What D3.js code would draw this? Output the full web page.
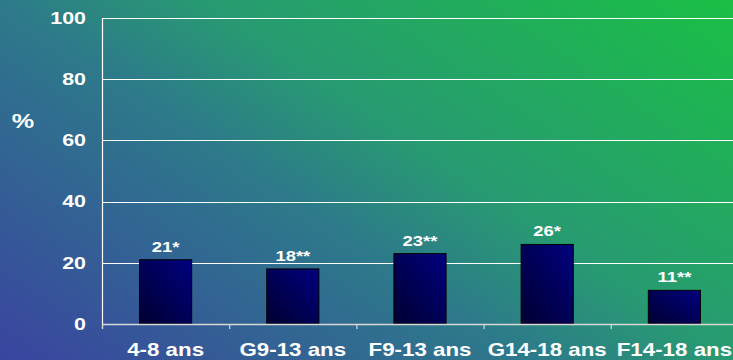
<!DOCTYPE html>
<html>
<head>
<meta charset="utf-8">
<script src="https://cdn.jsdelivr.net/npm/d3@7"></script>
<style>
  html, body { margin: 0; padding: 0; background: #2c7a80; }
  svg { display: block; }
  text { font-family: "Liberation Sans", Arial, sans-serif; font-weight: bold; fill: #ffffff; }
</style>
</head>
<body>
<svg id="chart" width="733" height="360"></svg>
<script>
// Data
const categories = ["4-8 ans", "G9-13 ans", "F9-13 ans", "G14-18 ans", "F14-18 ans"];
const values = [21, 18, 23, 26, 11];
const valueLabels = ["21*", "18**", "23**", "26*", "11**"];
const yTicks = [0, 20, 40, 60, 80, 100];

const W = 733, H = 360;
const margin = { left: 102, top: 18, bottom: 36 };
const plotRight = 738;

const svg = d3.select("#chart");
const defs = svg.append("defs");

// Background diagonal gradient: blue at bottom-left, teal through the middle, green at top-right
const bg = defs.append("linearGradient").attr("id", "bg")
  .attr("gradientUnits", "userSpaceOnUse")
  .attr("x1", 0).attr("y1", H).attr("x2", 398).attr("y2", -227);
bg.append("stop").attr("offset", 0).attr("stop-color", "#3a44a0");
bg.append("stop").attr("offset", 0.42).attr("stop-color", "#2d7a8a");
bg.append("stop").attr("offset", 0.58).attr("stop-color", "#289a72");
bg.append("stop").attr("offset", 1).attr("stop-color", "#1abf45");

// Bar fill: dark at bottom-left, navy at top-right
const barGrad = defs.append("linearGradient").attr("id", "barGrad")
  .attr("x1", 0).attr("y1", 1).attr("x2", 1).attr("y2", 0);
barGrad.append("stop").attr("offset", 0).attr("stop-color", "#000030");
barGrad.append("stop").attr("offset", 1).attr("stop-color", "#00007f");

svg.append("rect").attr("width", W).attr("height", H).attr("fill", "url(#bg)");

const x = d3.scaleBand().domain(categories).range([margin.left, plotRight]).paddingInner(0.59).paddingOuter(0.295);
const y = d3.scaleLinear().domain([0, 100]).range([H - margin.bottom, margin.top]);

// Text helper: wide bold lettering, stretched horizontally about its anchor
function wideText(g, tx, ty, sx, size, anchor, str) {
  g.append("text")
    .attr("transform", `translate(${tx},${ty}) scale(${sx},1)`)
    .attr("text-anchor", anchor).attr("font-size", size)
    .text(str);
}

// Gridlines
svg.append("g").selectAll("line").data(yTicks.filter(d => d > 0)).join("line")
  .attr("x1", margin.left).attr("x2", plotRight)
  .attr("y1", d => Math.round(y(d)) + 0.5).attr("y2", d => Math.round(y(d)) + 0.5)
  .attr("stroke", "#ffffff").attr("stroke-width", 1.2);

// Y axis line
svg.append("line")
  .attr("x1", margin.left + 0.5).attr("x2", margin.left + 0.5)
  .attr("y1", y(100)).attr("y2", y(0) + 5)
  .attr("stroke", "#ffffff").attr("stroke-width", 1.2);

// Y tick labels
const yLab = svg.append("g");
yTicks.forEach(d => wideText(yLab, 86, y(d) + 5.8, 1.3, 16.5, "end", d));

// Axis title
wideText(svg, 23, 128, 1.2, 21, "middle", "%");

// Bars
svg.append("g").selectAll("rect").data(values).join("rect")
  .attr("x", (d, i) => x(categories[i]))
  .attr("y", d => y(d))
  .attr("width", x.bandwidth())
  .attr("height", d => y(0) - y(d))
  .attr("fill", "url(#barGrad)")
  .attr("stroke", "#000000").attr("stroke-width", 1);

// X axis baseline and category separators
svg.append("line")
  .attr("x1", margin.left).attr("x2", plotRight)
  .attr("y1", y(0) + 0.5).attr("y2", y(0) + 0.5)
  .attr("stroke", "#d8d8d8").attr("stroke-width", 1.5);
const step = (plotRight - margin.left) / categories.length;
svg.append("g").selectAll("line").data(d3.range(categories.length + 1)).join("line")
  .attr("x1", i => margin.left + i * step + 0.5).attr("x2", i => margin.left + i * step + 0.5)
  .attr("y1", y(0)).attr("y2", y(0) + 5)
  .attr("stroke", "#d8d8d8").attr("stroke-width", 1.2);

// Value labels
const vLab = svg.append("g");
values.forEach((d, i) =>
  wideText(vLab, x(categories[i]) + x.bandwidth() / 2, y(d) - 8, 1.23, 15, "middle", valueLabels[i]));

// Category labels
const cLab = svg.append("g");
categories.forEach(c =>
  wideText(cLab, x(c) + x.bandwidth() / 2, 356, 1.24, 18, "middle", c));
</script>
</body>
</html>
